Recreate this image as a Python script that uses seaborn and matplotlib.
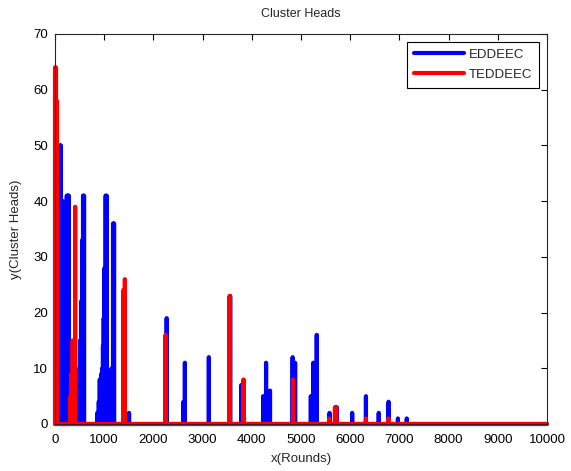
import numpy as np
import pandas as pd
import matplotlib
matplotlib.use("Agg")
import matplotlib.pyplot as plt
import seaborn as sns

# ---- data (rounds at which cluster heads were formed, and how many) ----
eddeec_rounds = [100, 120, 140, 160, 180, 200, 220, 240, 260, 280,
                 470, 490, 510, 530, 550, 570, 590,
                 860, 890, 910, 940, 960, 975, 990, 1005, 1030, 1050,
                 1150, 1180, 1200, 1505,
                 2270, 2610, 2640, 3127, 3560, 3785,
                 4230, 4290, 4370, 4830, 4880,
                 5200, 5250, 5320,
                 5580, 5700, 5730, 6040, 6320, 6580, 6780, 6970, 7150]
eddeec_heads = [50, 50, 40, 40, 11, 11, 37, 41, 41, 41,
                8, 10, 15, 22, 33, 41, 41,
                2, 4, 8, 9, 10, 14, 19, 28, 41, 41,
                10, 36, 36, 2,
                19, 4, 11, 12, 23, 7,
                5, 11, 6, 12, 11,
                5, 11, 16,
                2, 3, 3, 2, 5, 2, 4, 1, 1]

teddeec_rounds = [0, 20, 40, 310, 330, 360, 410,
                  1390, 1420, 2247, 3548, 3832, 4840,
                  5570, 5690, 5715, 6320, 6780]
teddeec_heads = [64, 64, 58, 5, 9, 15, 39,
                 24, 26, 16, 23, 8, 8,
                 1, 3, 3, 1, 1]

series_names = ["EDDEEC", "TEDDEEC"]
n_rounds = 10000

# ---- build per-round table ----
rounds = np.arange(0, n_rounds + 1)
frames = []
for name, r, h in [(series_names[0], eddeec_rounds, eddeec_heads),
                   (series_names[1], teddeec_rounds, teddeec_heads)]:
    vals = np.zeros(len(rounds))
    vals[np.array(r)] = np.array(h, dtype=float)
    frames.append(pd.DataFrame({"round": rounds, "heads": vals, "protocol": name}))
df = pd.concat(frames, ignore_index=True)

# ---- style ----
sns.set_style("white")
plt.rcParams["font.family"] = ["Liberation Sans", "DejaVu Sans"]
plt.rcParams["path.simplify"] = False

fig = plt.figure(figsize=(5.71, 4.71), dpi=100)
ax = fig.add_axes([55 / 571, 1 - 424 / 471, (547 - 55) / 571, (424 - 34) / 471])

sns.lineplot(data=df, x="round", y="heads", hue="protocol",
             hue_order=series_names,
             palette={"EDDEEC": "#0000ff", "TEDDEEC": "#ff0000"},
             estimator=None, sort=False, linewidth=3, ax=ax, clip_on=False)

ax.set_xlim(0, 10000)
ax.set_ylim(0, 70)
ax.set_xticks(np.arange(0, 10001, 1000))
ax.set_yticks(np.arange(0, 71, 10))
ax.tick_params(direction="in", top=True, right=True, length=4, width=0.8,
               labelsize=9.5, colors="black")
ax.tick_params(axis="x", pad=7)
ax.tick_params(axis="y", pad=5)
for s in ax.spines.values():
    s.set_visible(True)
    s.set_color("#262626")
    s.set_linewidth(0.8)

ax.set_title("Cluster Heads", fontsize=9, pad=12)
ax.set_xlabel("x(Rounds)", fontsize=9.5, labelpad=5)
ax.set_ylabel("y(Cluster Heads)", fontsize=9.5, labelpad=8)

leg = ax.legend(loc="upper right", fontsize=9.5, handlelength=3.8,
                fancybox=False, edgecolor="black", framealpha=1,
                borderaxespad=0.6, borderpad=0.5, labelspacing=0.6,
                handletextpad=0.4)
leg.get_frame().set_linewidth(0.8)
for line in leg.get_lines():
    line.set_linewidth(3)

fig.savefig("out.png", dpi=100)
